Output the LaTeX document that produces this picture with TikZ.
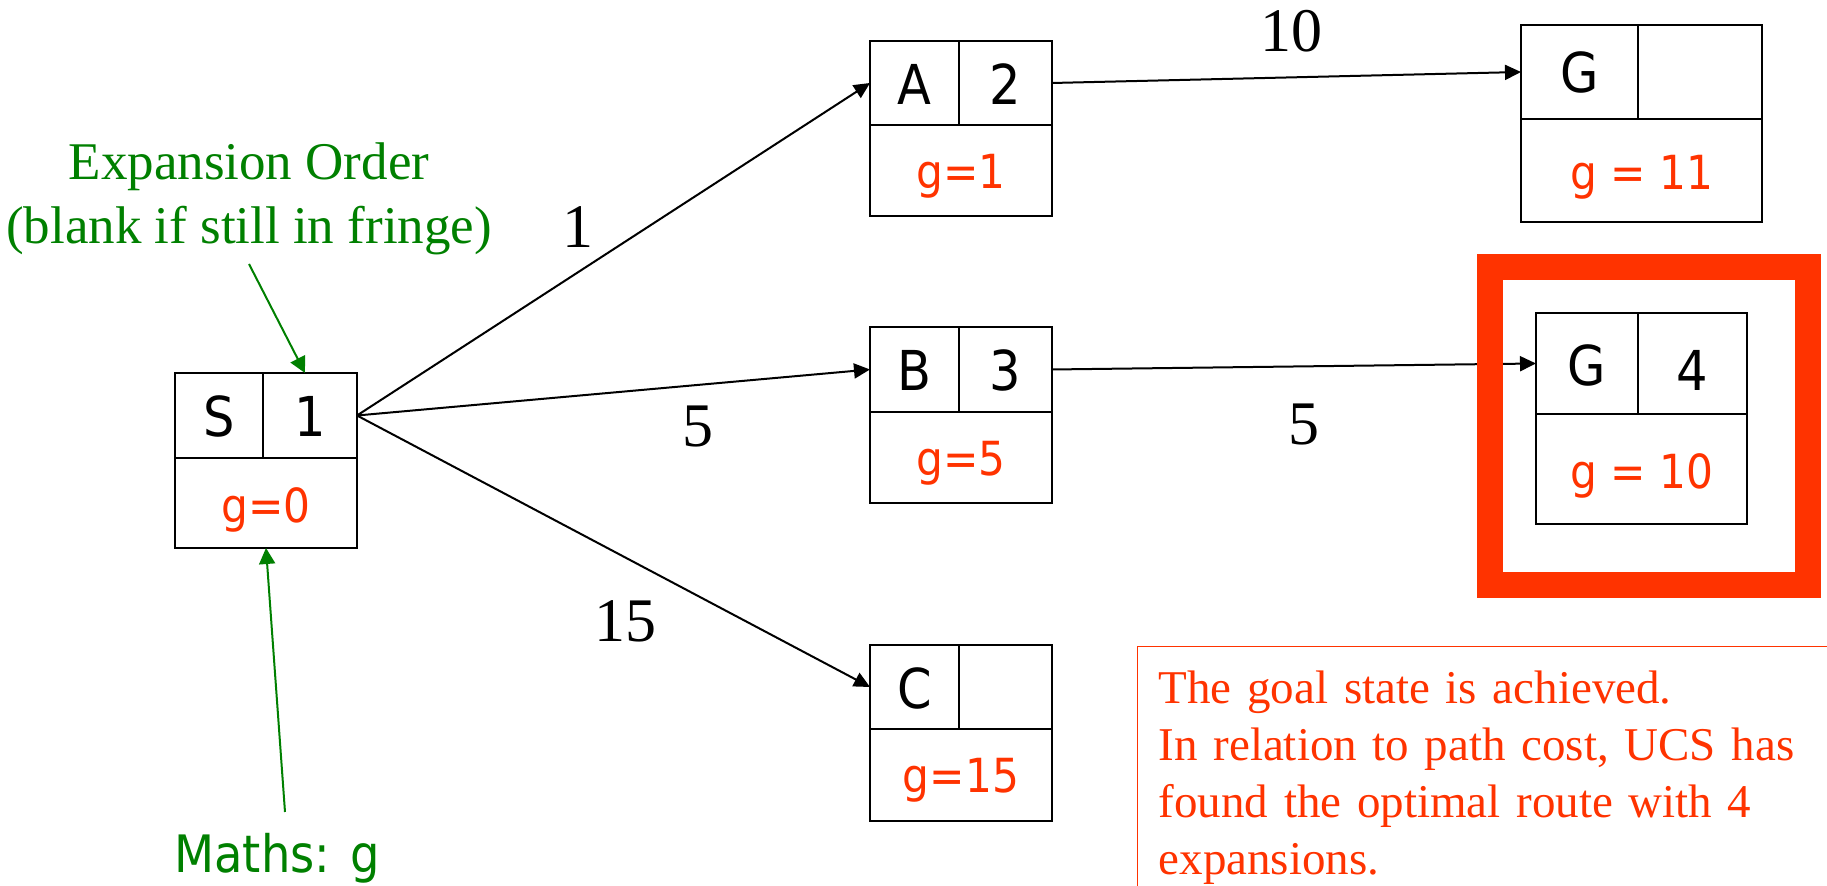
\documentclass[tikz,border=0pt]{standalone}
\usepackage{fontspec}
\setmainfont{Liberation Serif}
\newfontfamily\boxfont{DejaVu Sans}[FakeStretch=0.9]
\usetikzlibrary{arrows.meta}
\definecolor{ucsred}{RGB}{255,51,0}
\definecolor{ucsgreen}{RGB}{0,128,0}
\tikzset{
  cell/.style={draw, line width=0.85pt, inner sep=0pt, outer sep=0pt, anchor=north west},
  toptxt/.style={font=\boxfont\fontsize{27.5}{30}\selectfont},
  gtxt/.style={font=\boxfont\fontsize{23.5}{26}\selectfont, text=ucsred},
  edge/.style={line width=1pt, -{Triangle[length=8pt,width=7.5pt]}},
  gedge/.style={draw=ucsgreen, line width=1pt, -{Triangle[length=8pt,width=8pt]}},
  costlbl/.style={font=\fontsize{31}{36}\selectfont, anchor=base, inner sep=0pt},
}
\begin{document}
\begin{tikzpicture}[x=0.5pt,y=-0.5pt]
\clip (0,0) rectangle (1827,886);
\fill[white] (0,0) rectangle (1827,886);

% S box
\node[cell, toptxt, minimum width=44pt, text height=32pt, text depth=10.5pt] (sN) at (175,373) {S};
\node[cell, toptxt, minimum width=47pt, text height=32pt, text depth=10.5pt] (sO) at (263,373) {1};
\node[cell, gtxt, minimum width=91pt, text height=32.5pt, text depth=12.5pt] (sG) at (175,458) {g=0};

% A box
\node[cell, toptxt, minimum width=44.5pt, text height=32pt, text depth=10pt] (aN) at (870,41) {A};
\node[cell, toptxt, minimum width=46.5pt, text height=32pt, text depth=10pt] (aO) at (959,41) {2};
\node[cell, gtxt, minimum width=91pt, text height=32pt, text depth=13.5pt] (aG) at (870,125) {g=1};

% B box
\node[cell, toptxt, minimum width=44.5pt, text height=32pt, text depth=10.5pt] (bN) at (870,327) {B};
\node[cell, toptxt, minimum width=46.5pt, text height=32pt, text depth=10.5pt] (bO) at (959,327) {3};
\node[cell, gtxt, minimum width=91pt, text height=32pt, text depth=13.5pt] (bG) at (870,412) {g=5};

% C box
\node[cell, toptxt, minimum width=44.5pt, text height=32pt, text depth=10pt] (cN) at (870,645) {C};
\node[cell, toptxt, minimum width=46.5pt, text height=32pt, text depth=10pt] (cO) at (959,645) {};
\node[cell, gtxt, minimum width=91pt, text height=32pt, text depth=14pt] (cG) at (870,729) {g=15};

% G box (upper)
\node[cell, toptxt, minimum width=58.5pt, text height=34pt, text depth=13pt] (g1N) at (1521,25) {G};
\node[cell, toptxt, minimum width=62pt, text height=34pt, text depth=13pt] (g1O) at (1638,25) {};
\node[cell, gtxt, minimum width=120.5pt, text height=35.5pt, text depth=16pt] (g1G) at (1521,119) {g = 11};

% G box (goal)
\node[cell, toptxt, minimum width=51pt, text height=36.5pt, text depth=14pt] (g2N) at (1536,313) {G};
\node[cell, toptxt, minimum width=54.5pt, text height=39pt, text depth=11.5pt] (g2O) at (1638,313) {4};
\node[cell, gtxt, minimum width=105.5pt, text height=37.5pt, text depth=17.5pt] (g2G) at (1536,414) {g = 10};

% edges
\draw[edge] (sO.east) -- (aN.west);
\draw[edge] (sO.east) -- (bN.west);
\draw[edge] (sO.east) -- (cN.west);
\draw[edge] (aO.east) -- (g1N.west);
\draw[edge] (bO.east) -- (g2N.west);

% cost labels
\node[costlbl] (l1) at (578,248) {1};
\node[costlbl] (l5a) at (698,447) {5};
\node[costlbl] (l15) at (625,642) {15};
\node[costlbl] (l10) at (1291,52) {10};
\node[costlbl] (l5b) at (1304,445) {5};

% highlight frame
\node[draw=ucsred, line width=13pt, minimum width=158.75pt, minimum height=158.75pt, inner sep=0pt] (hl) at (1648.75,426.25) {};

% green annotations
\node[font=\fontsize{26.5}{32}\selectfont, text=ucsgreen, align=center, anchor=north, inner sep=0pt] (expl) at (249,142) {Expansion Order\\(blank if still in fringe)};
\coordinate (explTail) at (249,264);
\draw[gedge] (explTail) -- ([xshift=-2.5pt]sO.north);

\node[font=\boxfont\fontsize{25.8}{30}\selectfont, text=ucsgreen, anchor=base, inner sep=0pt] (maths) at (277,873) {Maths: g};
\coordinate (mathsTail) at (285,812);
\draw[gedge] (mathsTail) -- (sG.south);

% note box
\node[draw=ucsred, line width=0.7pt, anchor=north west, text width=350pt, align=left, inner xsep=10.5pt, inner ysep=12pt, text=ucsred, font=\fontsize{23.5}{28.5}\selectfont] (note) at (1137,646) {The goal state is achieved.\\In relation to path cost, UCS has\\found the optimal route with 4\\expansions.};
\end{tikzpicture}
\end{document}
